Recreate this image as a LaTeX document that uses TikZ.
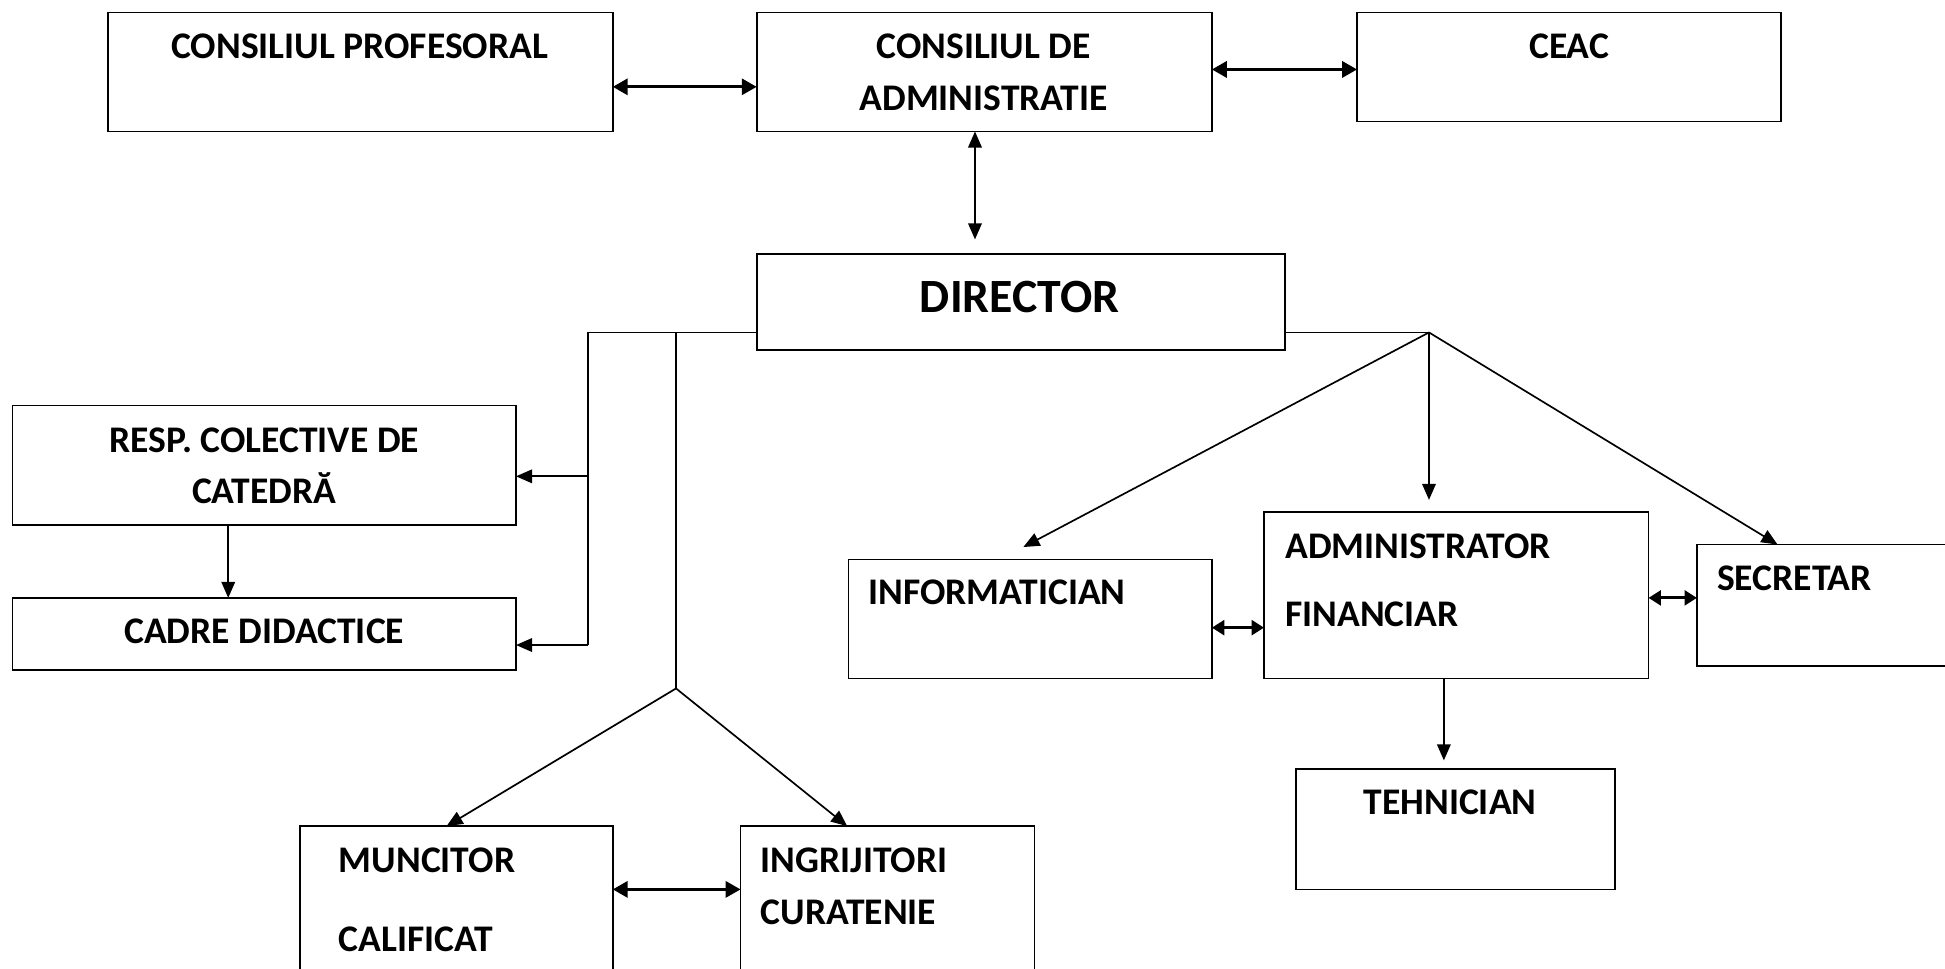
\documentclass[tikz,border=0pt]{standalone}
\usepackage{fontspec}
\setmainfont{Carlito}
\usetikzlibrary{arrows.meta}
\begin{document}
\begin{tikzpicture}[x=1pt,y=-1pt,
  box/.style={draw, rectangle, line width=1.4pt, inner sep=0pt, outer sep=0pt},
  lbl/.style={font=\bfseries\fontsize{30.3}{36}\selectfont, inner sep=0pt, anchor=base},
  lblw/.style={lbl, anchor=base west},
  big/.style={font=\bfseries\fontsize{38.5}{45}\selectfont, inner sep=0pt, anchor=base},
  conn/.style={line width=1.35pt},
  arr/.style={line width=1.35pt, -{Triangle[length=13pt,width=11pt]}},
  darr/.style={line width=1.35pt, {Triangle[length=13pt,width=11pt]}-{Triangle[length=13pt,width=11pt]}},
  tarr/.style={line width=2.3pt, {Triangle[length=12pt,width=13pt]}-{Triangle[length=12pt,width=13pt]}},
  sarr/.style={line width=2.3pt, {Triangle[length=10pt,width=12pt]}-{Triangle[length=10pt,width=12pt]}}]
\useasboundingbox (0,0) rectangle (1568,781);
\clip (0,0) rectangle (1568,781);
\fill[white] (0,0) rectangle (1568,781);
% boxes
\node[box, minimum width=407pt, minimum height=96pt] (cp) at (290.5,58) {};
\node[box, minimum width=367pt, minimum height=96pt] (cda) at (793.5,58) {};
\node[box, minimum width=342pt, minimum height=88pt] (ceac) at (1265,54) {};
\node[box, minimum width=426pt, minimum height=77pt] (dir) at (823,243.5) {};
\node[box, minimum width=406pt, minimum height=96pt] (resp) at (213,375) {};
\node[box, minimum width=406pt, minimum height=58pt] (cadre) at (213,511) {};
\node[box, minimum width=293pt, minimum height=96pt] (info) at (830.5,499) {};
\node[box, minimum width=310pt, minimum height=134pt] (adm) at (1174,480) {};
\node[box, minimum width=242pt, minimum height=98pt] (sec) at (1489,488) {};
\node[box, minimum width=257pt, minimum height=97pt] (teh) at (1173.5,668.5) {};
\node[box, minimum width=252pt, minimum height=134pt] (munc) at (368,733) {};
\node[box, minimum width=237pt, minimum height=134pt] (ingr) at (715.5,733) {};
% texts
\node[lbl] (tcp) at (290,47) {CONSILIUL PROFESORAL};
\node[lbl] (tcda1) at (793,47) {CONSILIUL DE};
\node[lbl] (tcda2) at (793,89) {ADMINISTRATIE};
\node[lbl] (tceac) at (1265,47) {CEAC};
\node[big] (tdir) at (822,252) {DIRECTOR};
\node[lbl] (tresp1) at (213,365) {RESP. COLECTIVE DE};
\node[lbl] (tresp2) at (213,406) {CATEDRĂ};
\node[lbl] (tcadre) at (213,519) {CADRE DIDACTICE};
\node[lblw] (tinfo) at (700,487) {INFORMATICIAN};
\node[lblw] (tadm1) at (1036,450) {ADMINISTRATOR};
\node[lblw] (tadm2) at (1036,505) {FINANCIAR};
\node[lblw] (tsec) at (1384,476) {SECRETAR};
\node[lbl] (tteh) at (1169,657) {TEHNICIAN};
\node[lblw] (tmunc1) at (273,703) {MUNCITOR};
\node[lblw] (tmunc2) at (273,767) {CALIFICAT};
\node[lblw] (tingr1) at (613,703) {INGRIJITORI};
\node[lblw] (tingr2) at (613,745) {CURATENIE};
% helper coordinates
\coordinate (y70) at (0,70);
\coordinate (y56) at (0,56);
\coordinate (dirtip) at (786,193);
\coordinate (jl) at (474,268);
\coordinate (jl1) at (474,384);
\coordinate (jl2) at (474,520);
\coordinate (jm) at (545,268);
\coordinate (fork) at (545,555);
\coordinate (mt) at (360,666);
\coordinate (it) at (683,666);
\coordinate (jr) at (1152,268);
\coordinate (infotip) at (825,441);
\coordinate (admtip) at (1152,403);
\coordinate (sectip) at (1433,439);
\coordinate (tehtip) at (1164,613);
\coordinate (y506) at (0,506);
\coordinate (y482) at (0,482);
\coordinate (y717) at (0,717);
\coordinate (x184) at (184,0);
\coordinate (x786) at (786,0);
\coordinate (x1164) at (1164,0);
% connectors
\draw[tarr] (cp.east |- y70) -- (cda.west |- y70);
\draw[tarr] (cda.east |- y56) -- (ceac.west |- y56);
\draw[darr] (cda.south -| x786) -- (dirtip);
\draw[conn] (dir.west |- jl) -- (jl) -- (jl2);
\draw[arr] (jl1) -- (resp.east |- jl1);
\draw[arr] (jl2) -- (cadre.east |- jl2);
\draw[conn] (jm) -- (fork);
\draw[arr] (fork) -- (mt);
\draw[arr] (fork) -- (it);
\draw[arr] (resp.south -| x184) -- (cadre.north -| x184);
\draw[conn] (dir.east |- jr) -- (jr);
\draw[arr] (jr) -- (infotip);
\draw[arr] (jr) -- (admtip);
\draw[arr] (jr) -- (sectip);
\draw[sarr] (info.east |- y506) -- (adm.west |- y506);
\draw[sarr] (adm.east |- y482) -- (sec.west |- y482);
\draw[arr] (adm.south -| x1164) -- (tehtip);
\draw[tarr] (munc.east |- y717) -- (ingr.west |- y717);
\end{tikzpicture}
\end{document}
